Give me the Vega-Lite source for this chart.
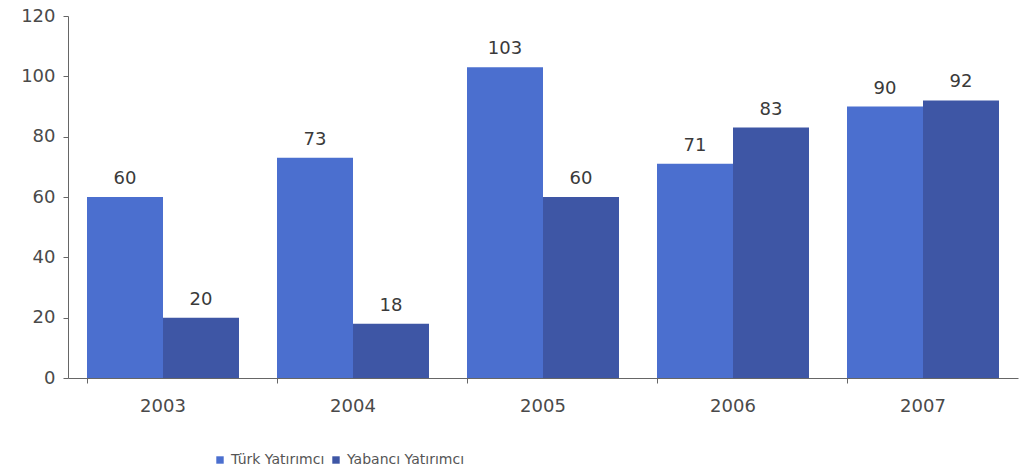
{
  "$schema": "https://vega.github.io/schema/vega-lite/v6.json",
  "width": 950,
  "height": 362,
  "autosize": "none",
  "padding": {"left": 68, "top": 16, "right": 16, "bottom": 94},
  "background": "white",
  "config": {
    "view": {"stroke": null},
    "font": "DejaVu Sans",
    "axis": {"labelFont": "DejaVu Sans", "labelColor": "#4a4a4a", "labelFontSize": 18, "domainColor": "#666", "tickColor": "#666", "grid": false, "title": null}
  },
  "data": {
    "values": [
      {"year": "2003", "series": "Türk Yatırımcı", "value": 60},
      {"year": "2003", "series": "Yabancı Yatırımcı", "value": 20},
      {"year": "2004", "series": "Türk Yatırımcı", "value": 73},
      {"year": "2004", "series": "Yabancı Yatırımcı", "value": 18},
      {"year": "2005", "series": "Türk Yatırımcı", "value": 103},
      {"year": "2005", "series": "Yabancı Yatırımcı", "value": 60},
      {"year": "2006", "series": "Türk Yatırımcı", "value": 71},
      {"year": "2006", "series": "Yabancı Yatırımcı", "value": 83},
      {"year": "2007", "series": "Türk Yatırımcı", "value": 90},
      {"year": "2007", "series": "Yabancı Yatırımcı", "value": 92}
    ]
  },
  "encoding": {
    "x": {"field": "year", "type": "nominal", "scale": {"paddingInner": 0.2, "paddingOuter": 0.1},
      "axis": {"labelAngle": 0, "bandPosition": 0, "tickSize": 5, "labelPadding": 14}},
    "xOffset": {"field": "series", "type": "nominal", "sort": ["Türk Yatırımcı", "Yabancı Yatırımcı"]},
    "y": {"field": "value", "type": "quantitative", "scale": {"domain": [0, 120]},
      "axis": {"values": [0, 20, 40, 60, 80, 100, 120], "tickSize": 5, "labelPadding": 8}}
  },
  "layer": [
    {
      "mark": {"type": "bar"},
      "encoding": {
        "color": {"field": "series", "type": "nominal", "sort": ["Türk Yatırımcı", "Yabancı Yatırımcı"],
          "scale": {"domain": ["Türk Yatırımcı", "Yabancı Yatırımcı"], "range": ["#4b6fcf", "#3e56a5"]},
          "legend": {"orient": "none", "legendX": 145, "legendY": 437, "direction": "horizontal", "title": null,
            "symbolType": "square", "symbolSize": 55, "labelFontSize": 14, "labelColor": "#555", "labelFont": "DejaVu Sans", "columnPadding": 4, "labelOffset": 4}
        }
      }
    },
    {
      "mark": {"type": "text", "dy": -18, "fontSize": 18, "color": "#3a3a3a", "font": "DejaVu Sans"},
      "encoding": {"text": {"field": "value", "type": "quantitative"}}
    }
  ]
}
